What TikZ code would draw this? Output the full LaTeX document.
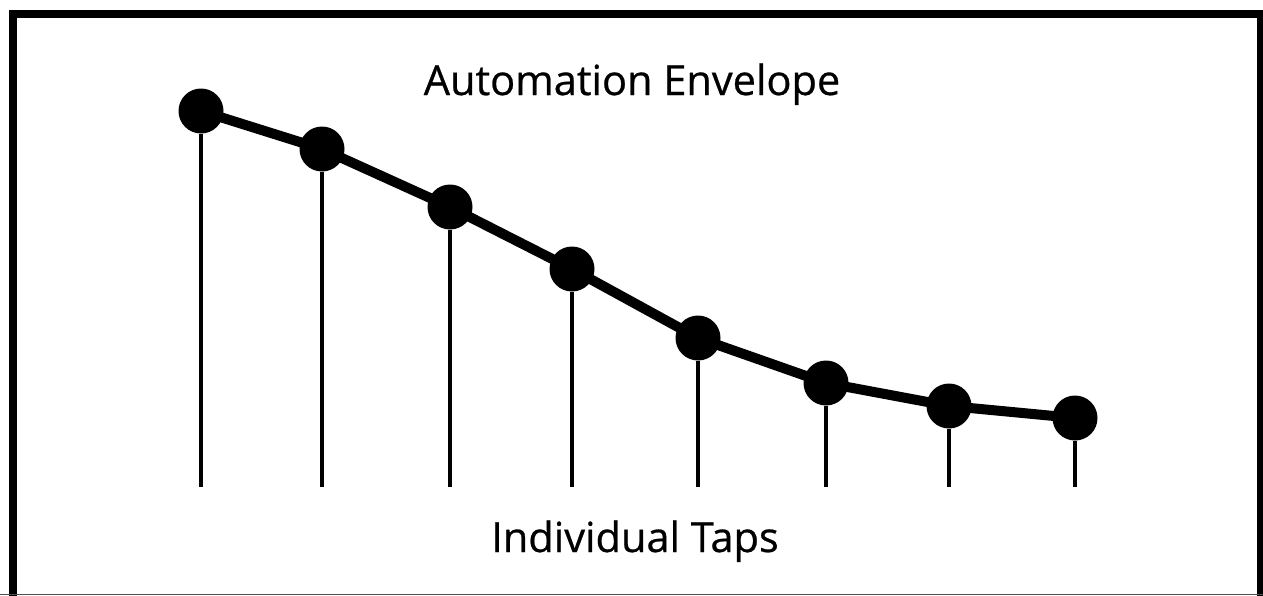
\documentclass[tikz,border=0pt]{standalone}
\usepackage{fontspec}
\setmainfont{Open Sans}
\newfontfamily\capfont{Open Sans}[FakeBold=0.6]
\usepackage{tikz}
\usetikzlibrary{positioning}

\begin{document}
\begin{tikzpicture}[
  x=1pt, y=-1pt,
  tap/.style={circle, fill=black, inner sep=0pt, minimum size=45pt},
  envelope/.style={line width=10pt, line join=round},
  stem/.style={line width=4pt},
  frame/.style={line width=8pt},
  caption/.style={font=\capfont\fontsize{41.5}{48}\selectfont, inner sep=0pt}
]
  \useasboundingbox (0,0) rectangle (1263,595);
  \clip (0,0) rectangle (1263,595);
  \fill[white] (0,0) rectangle (1263,595);

  % frame
  \draw[frame] (13,620) -- (13,14) -- (1261,14) -- (1261,620);
  \draw[line width=1.5pt, black!70] (0,594.5) -- (1263,594.5);

  % taps
  \node[tap] (t1) at (201,111) {};
  \node[tap] (t2) at (322,149) {};
  \node[tap] (t3) at (450,207) {};
  \node[tap] (t4) at (572,269) {};
  \node[tap] (t5) at (698,338) {};
  \node[tap] (t6) at (826,383) {};
  \node[tap] (t7) at (949,406) {};
  \node[tap] (t8) at (1075,418) {};

  \coordinate (b1) at (201,487);
  \coordinate (b2) at (322,487);
  \coordinate (b3) at (450,487);
  \coordinate (b4) at (572,487);
  \coordinate (b5) at (698,487);
  \coordinate (b6) at (826,487);
  \coordinate (b7) at (949,487);
  \coordinate (b8) at (1075,487);

  % stems
  \draw[stem] (t1) -- (b1);
  \draw[stem] (t2) -- (b2);
  \draw[stem] (t3) -- (b3);
  \draw[stem] (t4) -- (b4);
  \draw[stem] (t5) -- (b5);
  \draw[stem] (t6) -- (b6);
  \draw[stem] (t7) -- (b7);
  \draw[stem] (t8) -- (b8);

  % envelope
  \draw[envelope] (t1.center) -- (t2.center) -- (t3.center) -- (t4.center) -- (t5.center) -- (t6.center) -- (t7.center) -- (t8.center);

  % labels
  \node[caption, anchor=base] (title) at (632,95) {Automation Envelope};
  \node[caption, anchor=base] (taps) at (635,552) {Individual Taps};
\end{tikzpicture}
\end{document}
